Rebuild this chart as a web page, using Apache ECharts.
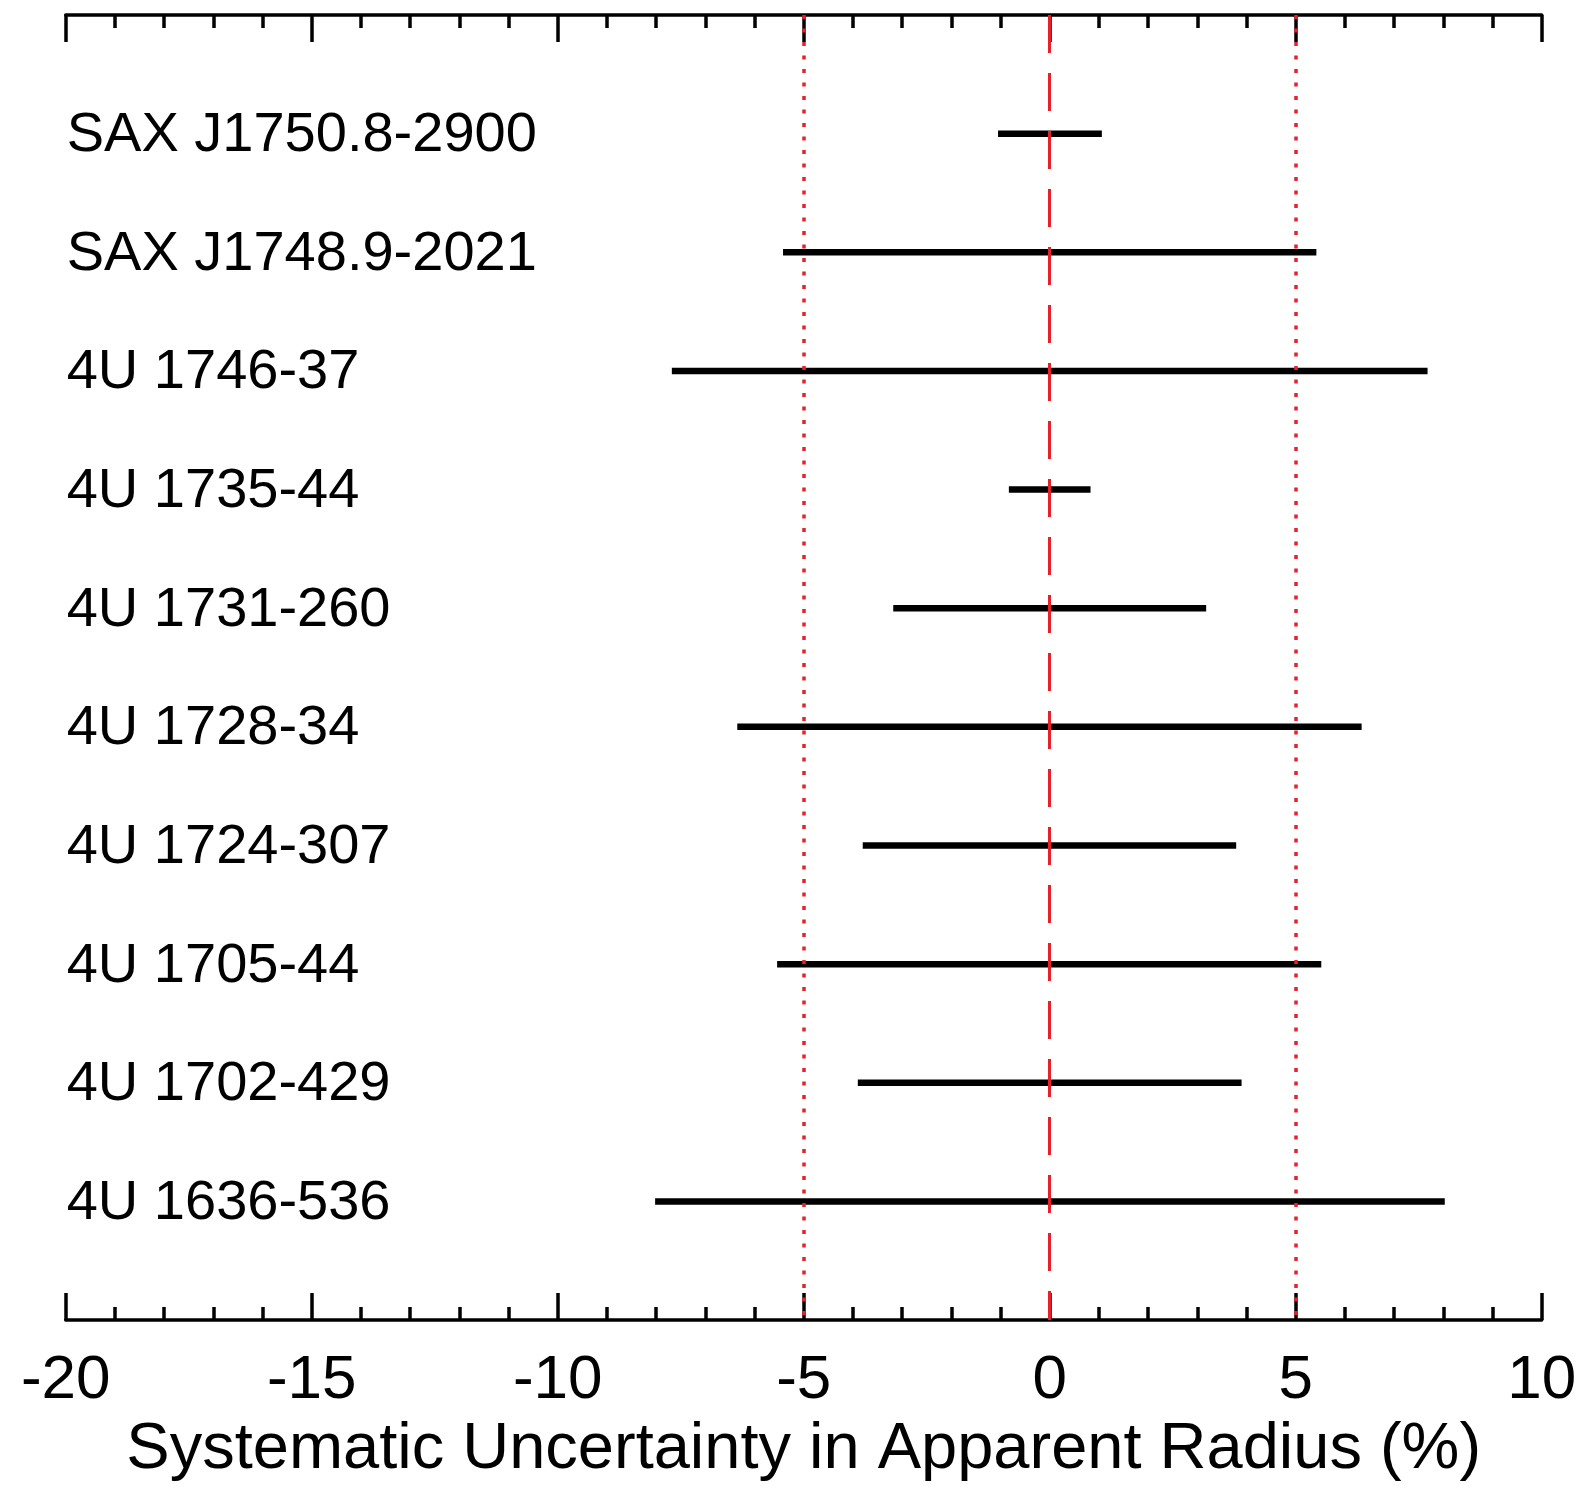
<!DOCTYPE html>
<html>
<head>
<meta charset="utf-8">
<script src="https://cdn.jsdelivr.net/npm/echarts@6/dist/echarts.min.js"></script>
<style>
html,body{margin:0;padding:0;background:#fff;}
#chart{width:1585px;height:1488px;}
</style>
</head>
<body>
<div id="chart"></div>
<script>
// Sources, top to bottom
var sources = ['SAX J1750.8-2900','SAX J1748.9-2021','4U 1746-37','4U 1735-44','4U 1731-260','4U 1728-34','4U 1724-307','4U 1705-44','4U 1702-429','4U 1636-536'];
// Lower and upper systematic uncertainty bounds (%)
var lower = [-1.05,-5.42,-7.68,-0.83,-3.18,-6.35,-3.80,-5.54,-3.90,-8.02];
var upper = [1.06,5.42,7.68,0.83,3.18,6.34,3.79,5.52,3.90,8.03];
// Reference lines
var dashedRef = [0];
var dottedRef = [-5, 5];
var xTicks = [-20,-15,-10,-5,0,5,10];

var FONT = 'Liberation Sans, Arial, Helvetica, sans-serif';
var RED = '#e8202a';

var rows = sources.map(function(s, i){ return [lower[i], upper[i], i + 1, s]; });

var chart = echarts.init(document.getElementById('chart'));
function axisBase(){
  return {
    type: 'value', min: xTicks[0], max: xTicks[xTicks.length-1], interval: 5,
    axisLine: {show: true, onZero: false, lineStyle: {color: '#000', width: 3.5}},
    axisTick: {show: true, inside: true, length: 27, lineStyle: {color: '#000', width: 3.5}},
    minorTick: {show: true, splitNumber: 5, length: 13, lineStyle: {color: '#000', width: 3.5}},
    splitLine: {show: false}
  };
}
chart.setOption({
  animation: false,
  backgroundColor: '#fff',
  grid: {left: 65.7, right: 43.3, top: 15, bottom: 165.5, containLabel: false},
  xAxis: [
    Object.assign(axisBase(), {
      position: 'bottom',
      name: 'Systematic Uncertainty in Apparent Radius (%)',
      nameLocation: 'middle', nameGap: 96,
      nameTextStyle: {fontFamily: FONT, fontSize: 65, color: '#000', lineHeight: 66},
      axisLabel: {show: true, margin: 30, fontFamily: FONT, fontSize: 62, color: '#000', lineHeight: 62}
    }),
    Object.assign(axisBase(), {position: 'top', axisLabel: {show: false}})
  ],
  yAxis: {type: 'value', min: 0, max: 11, inverse: true, show: false},
  series: [{
    type: 'custom',
    xAxisIndex: 0,
    data: rows,
    encode: {x: [0, 1], y: 2},
    renderItem: function(params, api){
      var y = api.value(2);
      var p1 = api.coord([api.value(0), y]);
      var p2 = api.coord([api.value(1), y]);
      var pl = api.coord([xTicks[0], y]);
      return {
        type: 'group',
        children: [
          {type: 'line', shape: {x1: p1[0], y1: p1[1], x2: p2[0], y2: p2[1]},
           style: {stroke: '#000', lineWidth: 6.5}},
          {type: 'text', x: pl[0] + 1, y: pl[1] + 2,
           style: {text: sources[params.dataIndex], font: '56px ' + FONT, fill: '#000',
                   textAlign: 'left', textVerticalAlign: 'middle'}}
        ]
      };
    },
    markLine: {
      silent: true, symbol: 'none', label: {show: false},
      data: dashedRef.map(function(v){ return {xAxis: v, lineStyle: {color: RED, width: 3, type: [38, 20]}}; })
        .concat(dottedRef.map(function(v){ return {xAxis: v, lineStyle: {color: RED, width: 3.5, type: [4, 9.5]}}; }))
    },
    z: 3
  }]
});
</script>
</body>
</html>
